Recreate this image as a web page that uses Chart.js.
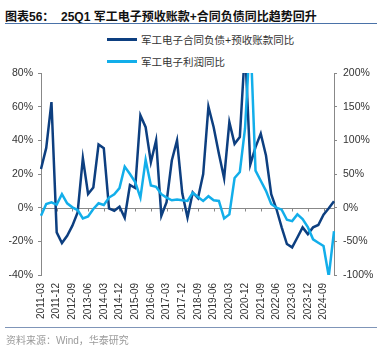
<!DOCTYPE html>
<html>
<head>
<meta charset="utf-8">
<script src="https://cdn.jsdelivr.net/npm/chart.js@4.4.0/dist/chart.umd.min.js"></script>
<style>
    body { margin: 0; width: 383px; height: 349px; position: relative; overflow: hidden; background: #fff;
           font-family: "Liberation Sans", "Noto Sans CJK SC", sans-serif; }
    #title { position: absolute; left: 5px; top: 7px; font-size: 12px; font-weight: bold; color: #111; white-space: nowrap; }
    .rule { position: absolute; left: 5px; right: 6px; height: 0; }
    #titleRule { top: 23px; border-top: 1.5px solid #4a72a8; }
    #srcRule { top: 327px; border-top: 1px solid #7f95b8; }
    #source { position: absolute; left: 6px; top: 332px; font-size: 10px; color: #9a9a9a; white-space: nowrap; }
    .legend { position: absolute; left: 107px; font-size: 10.5px; color: #333; white-space: nowrap; display: flex; align-items: center; }
    .legend i { display: inline-block; width: 30px; height: 3px; margin-right: 4px; }
    canvas { position: absolute; left: 0; top: 0; }
</style>
</head>
<body>
<div id="title">图表56：&nbsp;&nbsp;25Q1 军工电子预收账款+合同负债同比趋势回升</div>
<div class="rule" id="titleRule"></div>
<div class="legend" style="top:32px"><i style="background:#0d3f80"></i>军工电子合同负债+预收账款同比</div>
<div class="legend" style="top:54px"><i style="background:#12aeea"></i>军工电子利润同比</div>
<canvas id="chart" width="383" height="349"></canvas>
<div class="rule" id="srcRule"></div>
<div id="source">资料来源：Wind，华泰研究</div>
<script>
// quarters 2011Q1 .. 2025Q1
const quarters = [
    '2011-03', '2011-06', '2011-09', '2011-12', '2012-03', '2012-06', '2012-09', '2012-12',
    '2013-03', '2013-06', '2013-09', '2013-12', '2014-03', '2014-06', '2014-09', '2014-12',
    '2015-03', '2015-06', '2015-09', '2015-12', '2016-03', '2016-06', '2016-09', '2016-12',
    '2017-03', '2017-06', '2017-09', '2017-12', '2018-03', '2018-06', '2018-09', '2018-12',
    '2019-03', '2019-06', '2019-09', '2019-12', '2020-03', '2020-06', '2020-09', '2020-12',
    '2021-03', '2021-06', '2021-09', '2021-12', '2022-03', '2022-06', '2022-09', '2022-12',
    '2023-03', '2023-06', '2023-09', '2023-12', '2024-03', '2024-06', '2024-09', '2024-12',
    '2025-03'
];

// 合同负债+预收账款同比 (%), left axis
const contractYoy = [
    23, 35.5, 62.7, -14.7, -21, -16.7, -10.7, -2.8, 29.4, 8.1, 12, 37.5, 35.3, -0.4, -1.8, 0.6,
    -6, 13.5, 11.7, 54.8, 47.8, 27, 40, -4.8, 3.2, 28, 40, 8.5, -5.8, 9, 5.6, 20,
    60, 47.8, 32, 17.5, 50.8, 37.9, 41.9, 95, 25.6, 36, 44, 31, 8, -0.8, -11.7, -21.6,
    -23.6, -17.7, -11.7, -15.7, -11.7, -10.3, -4.2, -0.4, 3.8
];

// 利润同比 (%), right axis
const profitYoy = [
    -12, 5.5, 8, 4.5, 20, 6.5, 0.5, -3.5, -16, -13, -2, 6.5, 4, 15, 20, 29,
    61, 50, 38, 15, 71, 33, 31, 20, 15, 11, 12, 11, 10, 22, 16, 10,
    17, 11, 10, -16, -10, 44, 53, 118, 260, 55, 40, 25, 5.5, 0, -3, -18,
    -20, -10, -17, -29, -47, -52, -57, -102, -35
];

const leftTicks = [-40, -20, 0, 20, 40, 60, 80];
const rightTicks = [-100, -50, 0, 50, 100, 150, 200];

const AXIS_GREY = '#888';
const TEXT = '#333';
const showLabel = i => i % 3 === 0 && i <= 54;

// zero line with small tick marks at the labelled quarters
const zeroLine = {
    id: 'zeroLine',
    beforeDatasetsDraw(chart) {
        const { ctx, chartArea, scales } = chart;
        const y = Math.round(scales.y.getPixelForValue(0)) + 0.5;
        ctx.save();
        ctx.strokeStyle = AXIS_GREY;
        ctx.lineWidth = 1;
        ctx.beginPath();
        ctx.moveTo(chartArea.left, y);
        ctx.lineTo(chartArea.right, y);
        quarters.forEach((q, i) => {
            if (!showLabel(i)) return;
            const x = Math.round(scales.x.getPixelForValue(i)) + 0.5;
            ctx.moveTo(x, y);
            ctx.lineTo(x, y + 3);
        });
        ctx.stroke();
        ctx.restore();
    }
};

new Chart(document.getElementById('chart'), {
    type: 'line',
    data: {
        labels: quarters,
        datasets: [
            {
                label: '军工电子合同负债+预收账款同比',
                data: contractYoy,
                yAxisID: 'y',
                borderColor: '#0d3f80',
                borderWidth: 2.5,
                pointRadius: 0,
                tension: 0,
                order: 1
            },
            {
                label: '军工电子利润同比',
                data: profitYoy,
                yAxisID: 'y2',
                borderColor: '#12aeea',
                borderWidth: 2.5,
                pointRadius: 0,
                tension: 0,
                order: 0
            }
        ]
    },
    options: {
        responsive: false,
        devicePixelRatio: 1,
        animation: false,
        layout: { padding: { top: 73, left: 0, right: 0, bottom: 0 } },
        plugins: { legend: { display: false }, tooltip: { enabled: false } },
        scales: {
            x: {
                grid: { display: false, drawTicks: false },
                border: { display: false },
                ticks: {
                    autoSkip: false,
                    minRotation: 90,
                    maxRotation: 90,
                    padding: 8,
                    color: TEXT,
                    font: { size: 10, family: 'Liberation Sans' },
                    callback: (v, i) => showLabel(i) ? quarters[i] : ''
                },
                afterFit: s => { s.height = 74; }
            },
            y: {
                position: 'left',
                min: leftTicks[0],
                max: leftTicks[leftTicks.length - 1],
                afterBuildTicks: s => { s.ticks = leftTicks.map(v => ({ value: v })); },
                grid: { display: true, drawOnChartArea: false, drawTicks: true, tickLength: 3, color: AXIS_GREY },
                border: { display: true, color: AXIS_GREY },
                ticks: {
                    padding: 5,
                    color: TEXT,
                    font: { size: 10.5, family: 'Liberation Sans' },
                    callback: v => v + '%'
                },
                afterFit: s => { s.width = 41; }
            },
            y2: {
                position: 'right',
                min: rightTicks[0],
                max: rightTicks[rightTicks.length - 1],
                afterBuildTicks: s => { s.ticks = rightTicks.map(v => ({ value: v })); },
                grid: { display: true, drawOnChartArea: false, drawTicks: true, tickLength: 3, color: AXIS_GREY },
                border: { display: true, color: AXIS_GREY },
                ticks: {
                    padding: 6,
                    color: TEXT,
                    font: { size: 10.5, family: 'Liberation Sans' },
                    callback: v => v + '%'
                },
                afterFit: s => { s.width = 49; }
            }
        }
    },
    plugins: [zeroLine]
});
</script>
</body>
</html>
